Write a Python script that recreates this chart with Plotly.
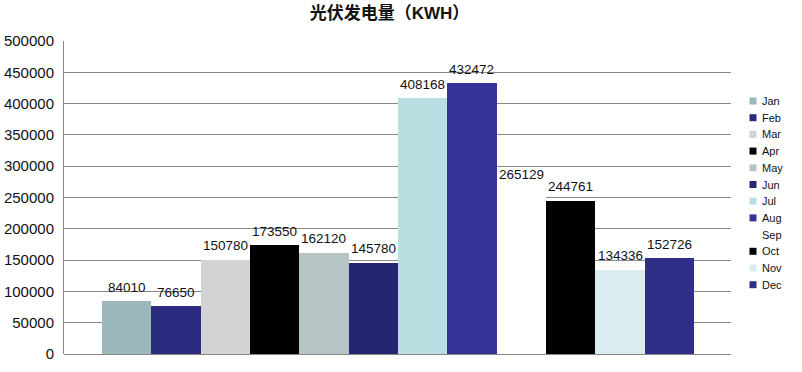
import plotly.graph_objects as go

months = ["Jan", "Feb", "Mar", "Apr", "May", "Jun", "Jul", "Aug", "Sep", "Oct", "Nov", "Dec"]
values = [84010, 76650, 150780, 173550, 162120, 145780, 408168, 432472, 265129, 244761, 134336, 152726]
colors = ["#9BB8BA", "#2A2A7E", "#D3D3D3", "#000000", "#B5C4C4", "#252570",
          "#BADFE3", "#343497", "#FFFFFF", "#000000", "#DAECEF", "#2F2F88"]
y_ticks = list(range(0, 500001, 50000))
title_cn = "光伏发电量"
title_unit = "KWH"

W, H = 802, 372
L, R, T, B = 64, 731, 41, 354

fig = go.Figure()
for m, v, c in zip(months, values, colors):
    fig.add_trace(go.Bar(
        x=[m], y=[v], name=m, marker=dict(color=c, line=dict(width=0)),
        width=1.0, showlegend=False, hoverinfo="x+y",
    ))

annotations = []
for m, v in zip(months, values):
    annotations.append(dict(
        x=m, y=v, xref="x", yref="y", text=str(v), showarrow=False,
        xanchor="center", yanchor="middle", yshift=14,
        font=dict(family="Liberation Sans, Arial", size=13.5, color="#111111"),
    ))

# manual legend
shapes = []
pw, ph = R - L, B - T
for i, (m, c) in enumerate(zip(months, colors)):
    cy = 101 + 16.7 * i
    shapes.append(dict(
        type="rect", xref="paper", yref="paper",
        x0=(749.5 - L) / pw, x1=(756.5 - L) / pw,
        y0=(B - (cy + 3.5)) / ph, y1=(B - (cy - 3.5)) / ph,
        fillcolor=c, line=dict(width=0), layer="above",
    ))
    annotations.append(dict(
        x=(760 - L) / pw, y=(B - cy) / ph, xref="paper", yref="paper",
        text=m, showarrow=False, xanchor="left", yanchor="middle",
        font=dict(family="Liberation Sans, Arial", size=11, color="#111111"),
    ))

title_text = ("<b>" + title_cn + "（</b><b><span style='font-family:Liberation Sans, Arial'>"
              + title_unit + "</span></b><b>）</b>")

fig.update_layout(
    width=W, height=H,
    margin=dict(l=L, r=W - R, t=T, b=H - B),
    paper_bgcolor="white", plot_bgcolor="white",
    barmode="overlay", bargap=0,
    title=dict(text=title_text, x=389.5 / W, xanchor="center",
               y=1 - 13.5 / H, yanchor="middle",
               font=dict(family="Noto Sans CJK SC, Liberation Sans", size=17, color="#111111")),
    font=dict(family="Liberation Sans, Arial", color="#111111"),
    showlegend=False,
    annotations=annotations,
    shapes=shapes,
    xaxis=dict(range=[-1.27, 12.25], showticklabels=False, showgrid=False, zeroline=False,
               showline=False, ticks="", automargin=False, fixedrange=True),
    yaxis=dict(range=[0, 500000], tickvals=y_ticks, ticktext=[str(t) for t in y_ticks],
               showgrid=True, gridcolor="#888888", gridwidth=1, zeroline=True, zerolinecolor="#888888",
               zerolinewidth=1, showline=True, linecolor="#888888", linewidth=1, ticks="",
               ticklabelstandoff=6, automargin=False, fixedrange=True,
               tickfont=dict(family="Liberation Sans, Arial", size=15, color="#111111")),
)

fig.write_html("out.html", config={"displayModeBar": False},
               post_script="document.body.style.margin='0';document.body.style.overflow='hidden';")
